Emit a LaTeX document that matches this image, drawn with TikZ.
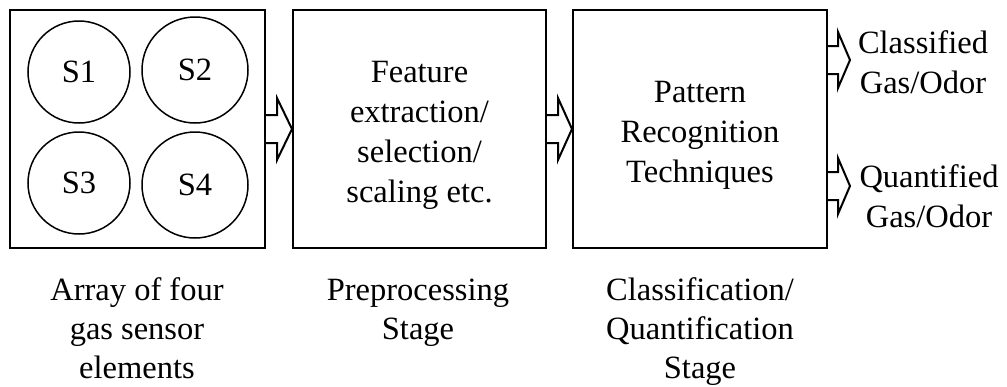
\documentclass[tikz,border=0pt]{standalone}
\usepackage{fontspec}
\setmainfont{Liberation Serif}
\usetikzlibrary{calc}
\newcommand\stk[1]{\begin{tabular}[t]{@{}c@{}}#1\end{tabular}}
\begin{document}
\begin{tikzpicture}[x=1pt,y=-1pt,
  stagebox/.style={draw,line width=2pt,inner sep=0,minimum width=#1,minimum height=238pt},
  sensor/.style={draw,circle,line width=1.5pt,inner sep=0,minimum size=#1,font=\fontsize{32.5}{40}\selectfont},
  txt/.style={inner sep=0,anchor=base,font=\fontsize{32.5}{40}\selectfont},
  captxt/.style={inner sep=0,anchor=base,font=\fontsize{32.5}{39}\selectfont},
  barrow/.style={draw,line width=2pt,line join=miter}]
\useasboundingbox (0,0) rectangle (1007,386);
% stage boxes
\node[stagebox=255pt] (b1) at (137.5,129) {};
\node[stagebox=253pt] (b2) at (419.5,129) {};
\node[stagebox=254pt] (b3) at (700,129) {};
% sensors
\node[sensor=102pt] (s1) at (79,72) {S1};
\node[sensor=106pt] (s2) at (195,70) {S2};
\node[sensor=102pt] (s3) at (79,183) {S3};
\node[sensor=106pt] (s4) at (195,185) {S4};
% box texts
\node[txt] (f2) at (419.5,82) {\stk{Feature\\extraction/\\selection/\\scaling etc.}};
\node[txt] (f3) at (700,102) {\stk{Pattern\\Recognition\\Techniques}};
% bottom labels
\node[captxt] (l1) at (137,300) {\stk{Array of four\\gas sensor\\elements}};
\node[captxt] (l2) at (418,300) {\stk{Preprocessing\\Stage}};
\node[captxt] (l3) at (700,300) {\stk{Classification/\\Quantification\\Stage}};
% output labels
\node[txt] (c1) at (923,53) {\stk{Classified\\Gas/Odor}};
\node[txt] (c2) at (929,187) {\stk{Quantified\\Gas/Odor}};
\coordinate (o1) at (850,60);
\coordinate (o2) at (850,186);
% block arrows between stages
\draw[barrow] let \p1=(b1.east), \p2=(b2.west) in
  (\x1,\y1+14pt) -- (\x2-15pt,\y1+14pt) -- (\x2-15pt,\y1+31pt) -- (\x2,\y1)
  -- (\x2-15pt,\y1-31pt) -- (\x2-15pt,\y1-14pt) -- (\x1,\y1-14pt);
\draw[barrow] let \p1=(b2.east), \p2=(b3.west) in
  (\x1,\y1+14pt) -- (\x2-14pt,\y1+14pt) -- (\x2-14pt,\y1+31pt) -- (\x2,\y1)
  -- (\x2-14pt,\y1-31pt) -- (\x2-14pt,\y1-14pt) -- (\x1,\y1-14pt);
% output arrows
\draw[barrow] let \p1=(b3.east |- o1), \p2=(o1) in
  (\x1,\y1+14pt) -- (\x2-12pt,\y1+14pt) -- (\x2-12pt,\y1+28pt) -- (\x2,\y1)
  -- (\x2-12pt,\y1-28pt) -- (\x2-12pt,\y1-14pt) -- (\x1,\y1-14pt);
\draw[barrow] let \p1=(b3.east |- o2), \p2=(o2) in
  (\x1,\y1+14pt) -- (\x2-12pt,\y1+14pt) -- (\x2-12pt,\y1+28pt) -- (\x2,\y1)
  -- (\x2-12pt,\y1-28pt) -- (\x2-12pt,\y1-14pt) -- (\x1,\y1-14pt);
\end{tikzpicture}
\end{document}
